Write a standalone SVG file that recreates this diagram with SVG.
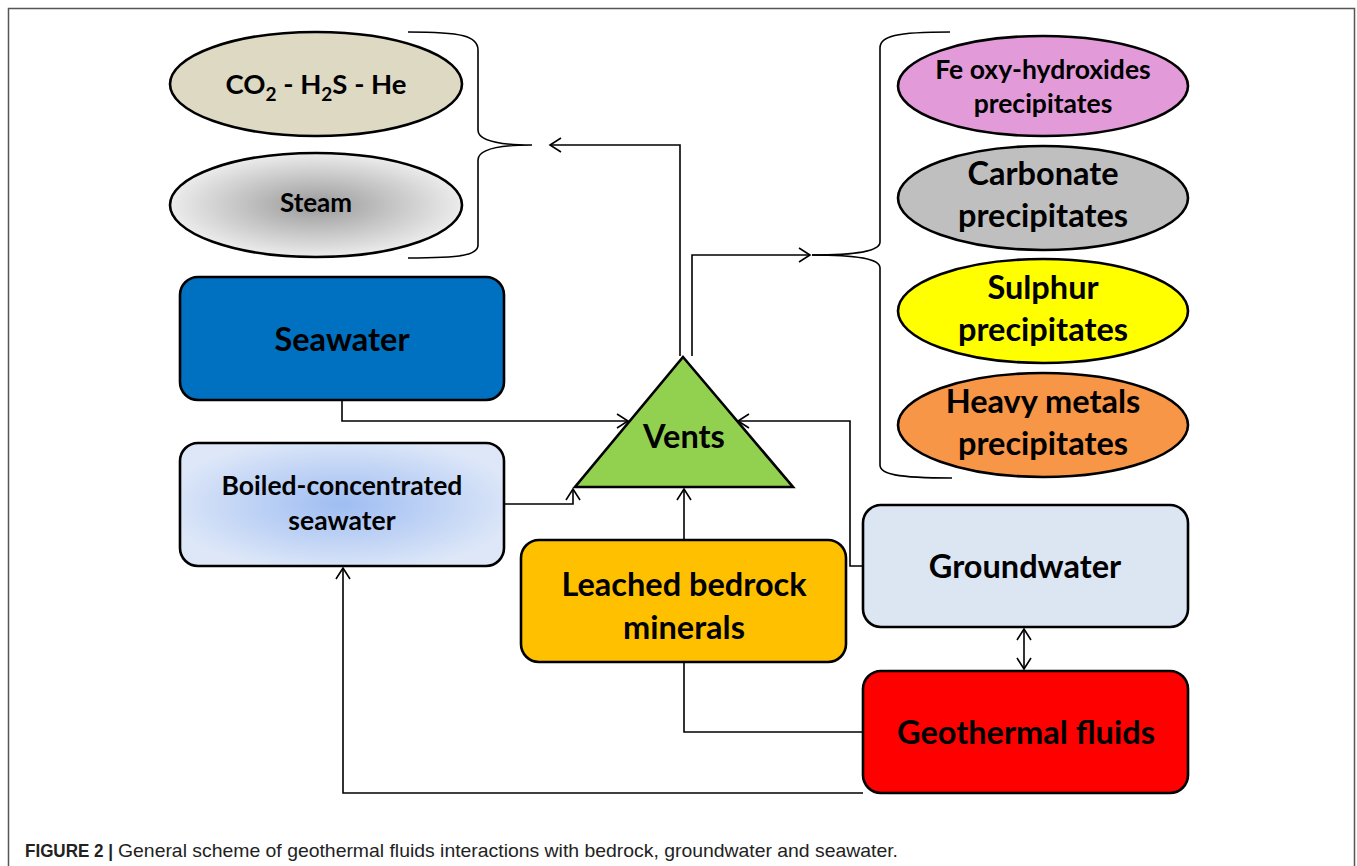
<svg xmlns="http://www.w3.org/2000/svg" width="1357" height="866" viewBox="0 0 1357 866">
<style>
.node{stroke:#000;stroke-width:2.6}
.lbl{font-family:Lato,"Open Sans","Liberation Sans",sans-serif;font-weight:bold;fill:#000;text-anchor:middle}
.big{font-size:32.5px}
.conn{fill:none;stroke:#000;stroke-width:1.6}
.cap{font-family:"Liberation Sans",Arial,sans-serif;font-size:18.5px;fill:#222}
</style>
<defs>
<marker id="arr" markerUnits="userSpaceOnUse" markerWidth="14" markerHeight="16" viewBox="0 0 14 16" refX="12" refY="8" orient="auto-start-reverse">
<path d="M1,1 L12,8 L1,15" fill="none" stroke="#000" stroke-width="1.6"/>
</marker>
<radialGradient id="steamG" cx="0.5" cy="0.5" r="0.5">
<stop offset="0" stop-color="#9a9a9a"/>
<stop offset="1" stop-color="#ececec"/>
</radialGradient>
<radialGradient id="boilG" cx="0.5" cy="0.5" r="0.55">
<stop offset="0" stop-color="#9fbdf2"/>
<stop offset="1" stop-color="#dde7f8"/>
</radialGradient>
</defs>
<rect x="0" y="0" width="1357" height="866" fill="#fff"/>
<rect x="8.5" y="8.5" width="1346" height="870" fill="none" stroke="#555" stroke-width="1.5"/>

<g id="connectors">
<path class="conn" d="M408,32 C462,32 478,36 478,50 L478,130 C478,141 500,145 532,145 C500,145 478,149 478,160 L478,245 C478,255 462,258 408,258"/>
<path class="conn" d="M950,32 C896,32 880,36 880,48 L880,242 C880,251 858,255 812,255 C858,255 880,259 880,268 L880,465 C880,474 896,478 952,478"/>
<path class="conn" d="M812,255 L832,255" stroke-width="2.6"/>
<path class="conn" d="M680,356 L680,145 L550,145" marker-end="url(#arr)"/>
<path class="conn" d="M692,356 L692,255 L810,255" marker-end="url(#arr)"/>
<path class="conn" d="M342,400 L342,421 L628,421" marker-end="url(#arr)"/>
<path class="conn" d="M504,504 L573,504 L573,489" marker-end="url(#arr)"/>
<path class="conn" d="M684,540 L684,489" marker-end="url(#arr)"/>
<path class="conn" d="M863,566 L850,566 L850,421 L738,421" marker-end="url(#arr)"/>
<path class="conn" d="M1024,629 L1024,669" marker-start="url(#arr)" marker-end="url(#arr)"/>
<path class="conn" d="M684,662 L684,732 L863,732"/>
<path class="conn" d="M863,793 L343,793 L343,568" marker-end="url(#arr)"/>
</g>

<g id="gases">
<ellipse class="node" cx="316" cy="84" rx="146" ry="52" fill="#ddd9c3"/>
<text class="lbl" x="316" y="94" font-size="27.5">CO<tspan font-size="19" dy="7">2</tspan><tspan dy="-7"> - H</tspan><tspan font-size="19" dy="7">2</tspan><tspan dy="-7">S - He</tspan></text>
</g>
<g id="steam">
<ellipse class="node" cx="316" cy="205" rx="146" ry="52" fill="url(#steamG)"/>
<text class="lbl" x="316" y="212" font-size="26">Steam</text>
</g>
<g id="fe">
<ellipse class="node" cx="1043" cy="86" rx="145" ry="50" fill="#e29bd8"/>
<text class="lbl" x="1043" y="79" font-size="26.5">Fe oxy-hydroxides</text>
<text class="lbl" x="1043" y="113" font-size="26.5">precipitates</text>
</g>
<g id="carbonate">
<ellipse class="node" cx="1043" cy="198" rx="145" ry="52" fill="#bfbfbf"/>
<text class="lbl big" x="1043" y="185">Carbonate</text>
<text class="lbl big" x="1043" y="227">precipitates</text>
</g>
<g id="sulphur">
<ellipse class="node" cx="1043" cy="311" rx="145" ry="52" fill="#ffff00"/>
<text class="lbl big" x="1043" y="299">Sulphur</text>
<text class="lbl big" x="1043" y="341">precipitates</text>
</g>
<g id="heavy">
<ellipse class="node" cx="1043" cy="425" rx="145" ry="52" fill="#f79646"/>
<text class="lbl big" x="1043" y="413">Heavy metals</text>
<text class="lbl big" x="1043" y="455">precipitates</text>
</g>
<g id="seawater">
<rect class="node" x="180" y="277" width="324" height="123" rx="18" fill="#0070c0"/>
<text class="lbl big" x="342" y="351">Seawater</text>
</g>
<g id="boiled">
<rect class="node" x="180" y="443" width="324" height="123" rx="18" fill="url(#boilG)"/>
<text class="lbl" x="342" y="495" font-size="26.5">Boiled-concentrated</text>
<text class="lbl" x="342" y="530" font-size="26.5">seawater</text>
</g>
<g id="vents">
<polygon class="node" points="683,357 793,487 575,487" fill="#92d050"/>
<text class="lbl big" x="684" y="448">Vents</text>
</g>
<g id="leached">
<rect class="node" x="521" y="540" width="325" height="122" rx="18" fill="#ffc000"/>
<text class="lbl big" x="684" y="596">Leached bedrock</text>
<text class="lbl big" x="684" y="639">minerals</text>
</g>
<g id="groundwater">
<rect class="node" x="863" y="505" width="325" height="122" rx="18" fill="#dce6f2"/>
<text class="lbl big" x="1025" y="578">Groundwater</text>
</g>
<g id="geothermal">
<rect class="node" x="863" y="671" width="325" height="122" rx="18" fill="#ff0000"/>
<text class="lbl big" x="1026" y="744">Geothermal fluids</text>
</g>

<g id="caption">
<text class="cap" x="25" y="857" font-weight="bold" textLength="88" lengthAdjust="spacingAndGlyphs">FIGURE 2 |</text>
<text class="cap" x="118" y="857" textLength="780" lengthAdjust="spacingAndGlyphs">General scheme of geothermal fluids interactions with bedrock, groundwater and seawater.</text>
</g>
</svg>
